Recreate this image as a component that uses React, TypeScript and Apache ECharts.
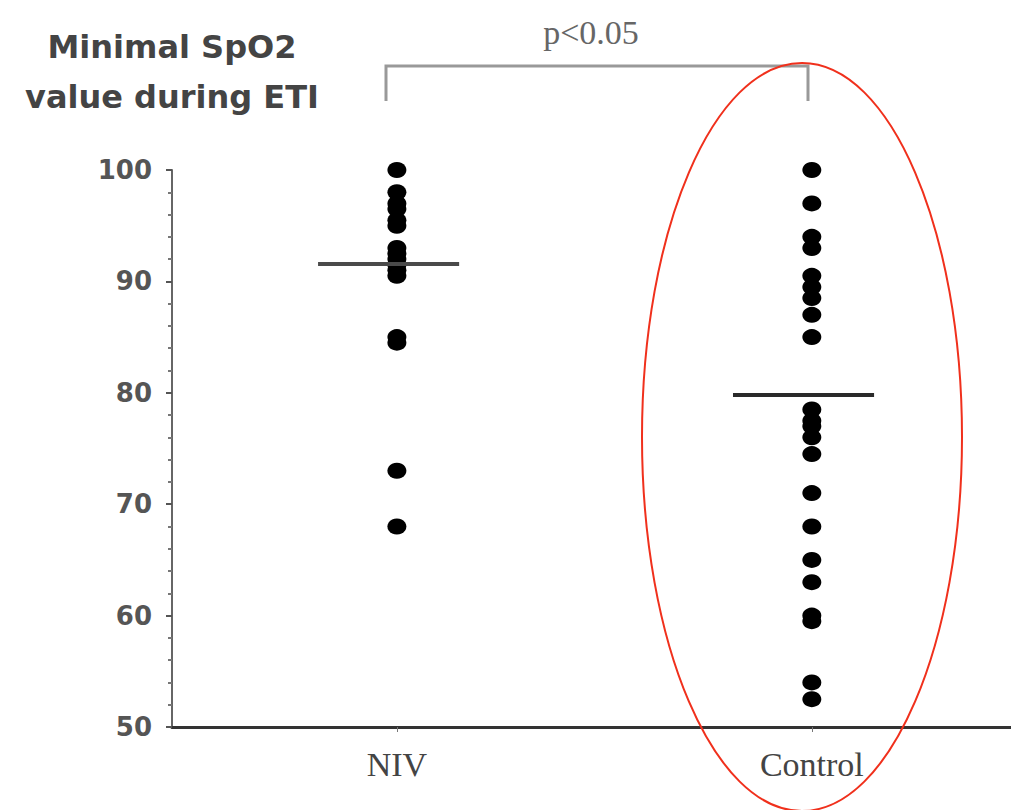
import React, { useEffect, useRef } from "react";
import * as echarts from "echarts";

const categories = ["NIV", "Control"];
const nivValues = [100, 98, 97, 96.5, 95.5, 95, 93, 92.5, 92, 91.5, 91, 90.5, 85, 84.5, 73, 68];
const controlValues = [100, 97, 94, 93, 90.5, 89.5, 88.5, 87, 85, 78.5, 77.5, 77, 76, 74.5, 71, 68, 65, 63, 60, 59.5, 54, 52.5];
const centralValues = [91.6, 79.8];
const yTicks = [50, 60, 70, 80, 90, 100];
const yAxisTitle = "Minimal SpO2\nvalue during ETI";
const pLabel = "p<0.05";

export default function App() {
  const ref = useRef<HTMLDivElement>(null);
  useEffect(() => {
    if (!ref.current) return;
    const chart = echarts.init(ref.current, null, { renderer: "svg" });
    const groups = [nivValues, controlValues];
    const half = 0.17;
    const series: any[] = groups.map((vals, gi) => ({
      type: "scatter",
      name: categories[gi],
      data: vals.map((v) => [gi + 1, v]),
      symbol: "circle",
      symbolSize: [19, 16],
      itemStyle: { color: "#000", opacity: 1 },
      silent: true,
      markLine: {
        silent: true,
        symbol: "none",
        label: { show: false },
        lineStyle: { color: gi === 0 ? "#4a4a4a" : "#2a2a2a", width: 4, type: "solid", opacity: 1 },
        data: [
          [
            { coord: [gi + 1 - 0.02 - half, centralValues[gi]] },
            { coord: [gi + 1 - 0.02 + half, centralValues[gi]] },
          ],
        ],
      },
    }));
    chart.setOption({
      animation: false,
      backgroundColor: "#fff",
      grid: { left: 172, right: 0, top: 170, bottom: 83, outerBoundsMode: "none", containLabel: false },
      xAxis: {
        type: "value",
        min: 0.458,
        max: 2.48,
        axisLine: { show: true, lineStyle: { color: "#333", width: 3 } },
        axisTick: { show: true, customValues: [1, 2], length: 5, lineStyle: { color: "#777", width: 1 } },
        axisLabel: {
          show: true,
          customValues: [1, 2],
          formatter: (v: number) => categories[Math.round(v) - 1] || "",
          fontFamily: "Liberation Serif",
          fontSize: 34,
          color: "#444",
          margin: 20,
        },
        splitLine: { show: false },
      },
      yAxis: {
        type: "value",
        min: yTicks[0],
        max: yTicks[yTicks.length - 1],
        interval: 10,
        name: yAxisTitle,
        nameLocation: "end",
        nameGap: 48,
        nameTextStyle: {
          fontFamily: "DejaVu Sans",
          fontWeight: "bold",
          fontSize: 32,
          lineHeight: 50,
          color: "#444",
          align: "center",
        },
        axisLine: { show: true, lineStyle: { color: "#666", width: 2 } },
        axisTick: { show: true, length: 6, lineStyle: { color: "#555", width: 2 } },
        minorTick: { show: true, splitNumber: 5, length: 4, lineStyle: { color: "#777", width: 2 } },
        axisLabel: {
          fontFamily: "DejaVu Sans",
          fontWeight: "bold",
          fontSize: 26,
          color: "#555",
          margin: 20,
        },
        splitLine: { show: false },
      },
      graphic: [
        {
          type: "polyline",
          shape: { points: [[386, 101], [386, 66], [808, 66], [808, 101]] },
          style: { stroke: "#999", lineWidth: 3, fill: null },
          silent: true,
        },
        {
          type: "text",
          x: 591,
          y: 32,
          style: {
            text: pLabel,
            font: "34px 'Liberation Serif'",
            fill: "#666",
            textAlign: "center",
            textVerticalAlign: "middle",
          },
          silent: true,
        },
        {
          type: "ellipse",
          shape: { cx: 802, cy: 437, rx: 160, ry: 374 },
          style: { stroke: "#f0301c", lineWidth: 2, fill: null },
          silent: true,
          z: 100,
        },
      ],
      series,
    });
    return () => chart.dispose();
  }, []);
  return (
    <div
      ref={ref}
      style={{ position: "fixed", left: 0, top: 0, width: 1011, height: 810, background: "#fff" }}
    />
  );
}
